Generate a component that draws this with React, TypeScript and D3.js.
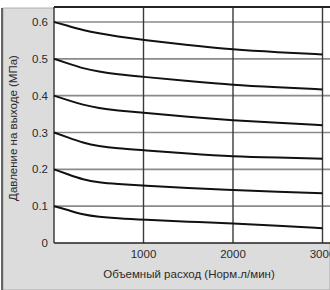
import React from "react";
import * as d3 from "d3";

const flows = [0, 150, 325, 500, 700, 1000, 1500, 2000, 2500, 3000];
const p06 = [0.6, 0.59, 0.578, 0.569, 0.561, 0.551, 0.537, 0.525, 0.518, 0.512];
const p05 = [0.5, 0.488, 0.474, 0.465, 0.458, 0.451, 0.44, 0.429, 0.423, 0.417];
const p04 = [0.4, 0.388, 0.375, 0.366, 0.36, 0.354, 0.342, 0.333, 0.326, 0.32];
const p03 = [0.3, 0.287, 0.272, 0.263, 0.257, 0.252, 0.243, 0.235, 0.232, 0.229];
const p02 = [0.2, 0.187, 0.172, 0.164, 0.16, 0.156, 0.149, 0.144, 0.139, 0.135];
const p01 = [0.1, 0.09, 0.077, 0.071, 0.067, 0.063, 0.058, 0.053, 0.047, 0.04];
const seriesList = [p06, p05, p04, p03, p02, p01];

const yTicks = [0, 0.1, 0.2, 0.3, 0.4, 0.5, 0.6];
const yTickLabels = ["0", "0.1", "0.2", "0.3", "0.4", "0.5", "0.6"];
const xTicks = [1000, 2000, 3000];
const xTickLabels = ["1000", "2000", "3000"];
const xTitle = "Объемный расход (Норм.л/мин)";
const yTitle = "Давление на выходе (МПа)";

const W = 330;
const H = 290;
const left = 54;
const top = 7;
const bottom = 243;
const font = "'Liberation Sans', Arial, sans-serif";

export default function App() {
  const x = d3.scaleLinear().domain([0, 1000]).range([left, left + 89.5]);
  const y = d3.scaleLinear().domain([0, 0.6]).range([bottom, 22]);
  const line = d3
    .line<number>()
    .x((_, i) => x(flows[i]))
    .y((d) => y(d))
    .curve(d3.curveBasis);

  return (
    <svg width={W} height={H} style={{ position: "absolute", left: 0, top: 0 }}>
      <rect x={0} y={0} width={W} height={H} fill="#ffffff" />
      <rect x={3} y={8} width={W - 3} height={H - 8} fill="#dcdcdc" stroke="#a0a0a0" strokeWidth={0.8} />
      <line x1={2} y1={8} x2={2} y2={H} stroke="#444" strokeWidth={1.6} />
      <rect x={left} y={top} width={W - left + 5} height={bottom - top} fill="#ffffff" />
      {yTicks.slice(1).map((t) => (
        <line key={"h" + t} x1={left} x2={W} y1={y(t)} y2={y(t)} stroke="#8a8a8a" strokeWidth={1.6} />
      ))}
      {xTicks.map((t) => (
        <line key={"v" + t} x1={x(t)} x2={x(t)} y1={top} y2={bottom} stroke="#3a3a3a" strokeWidth={1.4} />
      ))}
      <line x1={left} x2={W} y1={top} y2={top} stroke="#222" strokeWidth={2} />
      <line x1={left} x2={W} y1={bottom} y2={bottom} stroke="#222" strokeWidth={1.6} />
      <line x1={left} x2={left} y1={top} y2={bottom} stroke="#333" strokeWidth={1.4} />
      {seriesList.map((s, i) => (
        <path key={i} d={line(s) || ""} fill="none" stroke="#111" strokeWidth={2} />
      ))}
      {yTicks.map((t, i) => (
        <text key={"yl" + t} x={48} y={y(t) + 4} textAnchor="end" fontFamily={font} fontSize={11.5} fill="#2a2a2a">
          {yTickLabels[i]}
        </text>
      ))}
      {xTicks.map((t, i) => (
        <text key={"xl" + t} x={x(t)} y={258} textAnchor="middle" fontFamily={font} fontSize={11.5} fill="#2a2a2a">
          {xTickLabels[i]}
        </text>
      ))}
      <text x={189} y={278} textAnchor="middle" fontFamily={font} fontSize={11.5} fill="#2a2a2a">
        {xTitle}
      </text>
      <text
        transform={`translate(17, 128) rotate(-90)`}
        textAnchor="middle"
        fontFamily={font}
        fontSize={11.5}
        fill="#2a2a2a"
      >
        {yTitle}
      </text>
    </svg>
  );
}
